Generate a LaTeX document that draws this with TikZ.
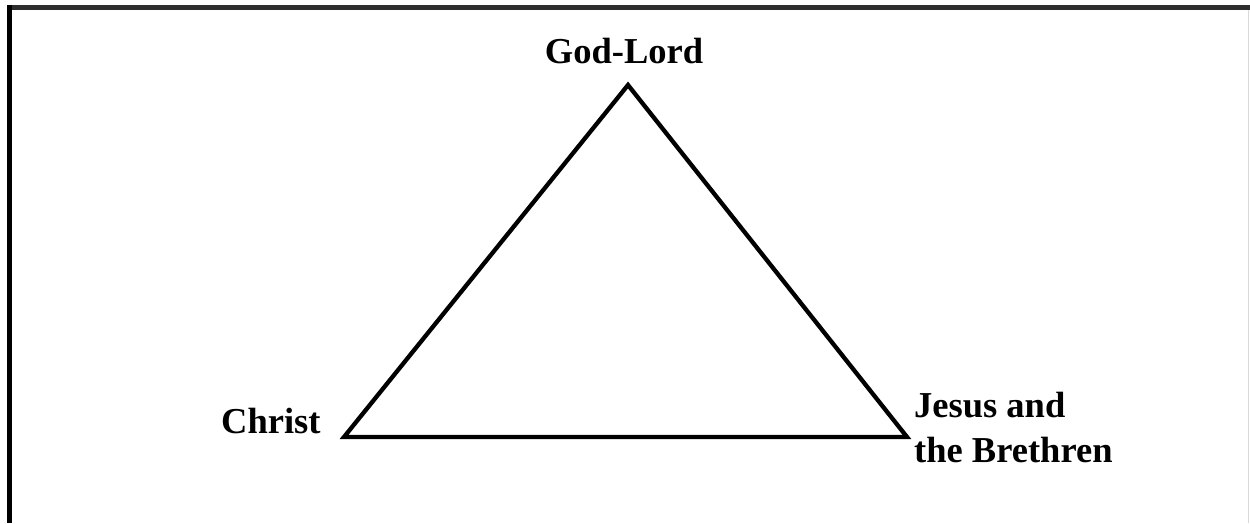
\documentclass[tikz,border=0pt]{standalone}
\usepackage{fontspec}
\setmainfont{Liberation Serif}
\begin{document}
\begin{tikzpicture}[x=1pt,y=-1pt,
  lbl/.style={inner sep=0pt,font=\bfseries\fontsize{36.5}{46}\selectfont},
  edge/.style={line width=4.3pt,line join=miter,black}]
\useasboundingbox (0,0) rectangle (1250,523);
\fill[white] (0,0) rectangle (1250,523);
% frame
\draw[line width=5pt,black!82] (7,7.5) -- (1250,7.5);
\draw[line width=5pt,black] (9.5,5) -- (9.5,523);
\draw[line width=1pt,black!15] (1248,10) -- (1248,523);
% triangle
\coordinate (top) at (628,85);
\coordinate (bl) at (344,437);
\coordinate (br) at (907,437);
\draw[edge] (top) -- (br) -- (bl) -- cycle;
% labels
\node[lbl,anchor=base] (god) at (624,63) {God-Lord};
\node[lbl,anchor=base west] (christ) at (221,433) {Christ};
\node[lbl,anchor=base west] (jesus) at (914,417) {Jesus and};
\node[lbl,anchor=base west] (breth) at (914,462) {the Brethren};
\end{tikzpicture}
\end{document}
